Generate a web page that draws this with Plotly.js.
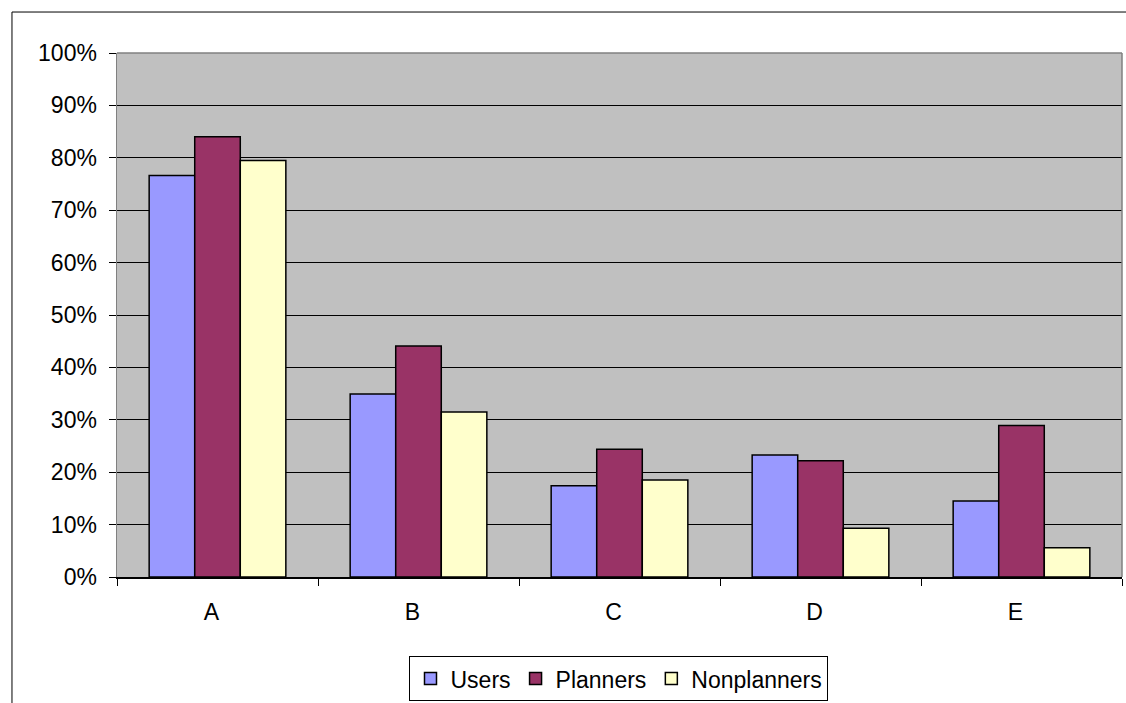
<!DOCTYPE html>
<html>
<head>
<meta charset="utf-8">
<script src="https://cdn.plot.ly/plotly-3.0.1.min.js"></script>
<style>
  html, body { margin: 0; padding: 0; background: #fff; }
  #chart { width: 1126px; height: 703px; }
</style>
</head>
<body>
<div id="chart"></div>
<script>
// Categories and share of respondents per group (fractions)
const categories = ['A', 'B', 'C', 'D', 'E'];
const users = [0.766, 0.349, 0.174, 0.233, 0.145];
const planners = [0.840, 0.441, 0.244, 0.222, 0.289];
const nonplanners = [0.795, 0.315, 0.185, 0.093, 0.056];
const yTicks = [0, 0.1, 0.2, 0.3, 0.4, 0.5, 0.6, 0.7, 0.8, 0.9, 1.0];
const yTickText = ['0%', '10%', '20%', '30%', '40%', '50%', '60%', '70%', '80%', '90%', '100%'];

const family = 'Liberation Sans, Arial, sans-serif';
const barLine = { color: '#000', width: 1.5 };

function series(name, values, color) {
  return {
    type: 'bar', name: name, x: categories, y: values,
    marker: { color: color, line: barLine },
    hoverinfo: 'x+y+name'
  };
}

const data = [
  series('Users', users, '#9999FF'),
  series('Planners', planners, '#993366'),
  series('Nonplanners', nonplanners, '#FFFFCC')
];

const layout = {
  width: 1126, height: 703,
  margin: { l: 117, r: 4, t: 53, b: 126, pad: 0, autoexpand: false },
  paper_bgcolor: '#fff',
  plot_bgcolor: '#C0C0C0',
  font: { family: family, size: 23, color: '#000' },
  barmode: 'group',
  bargap: 0.32,
  bargroupgap: 0,
  showlegend: true,
  legend: {
    orientation: 'h', x: 0.4995, xanchor: 'center', y: -0.151, yanchor: 'top',
    bgcolor: '#fff', bordercolor: '#000', borderwidth: 1,
    font: { family: family, size: 23, color: '#000' },
    itemwidth: 30, tracegroupgap: 0
  },
  xaxis: {
    type: 'category',
    tickson: 'boundaries',
    ticks: 'outside', ticklen: 7, tickcolor: '#000', tickwidth: 1,
    showline: true, linecolor: '#000', linewidth: 1.5,
    showgrid: false, zeroline: false,
    tickfont: { family: family, size: 23, color: '#000' },
    ticklabelstandoff: 14,
    ticklabelshift: -6,
    automargin: false,
    fixedrange: true
  },
  yaxis: {
    range: [0, 1.0],
    tickvals: yTicks, ticktext: yTickText,
    ticks: 'outside', ticklen: 7, tickcolor: '#000', tickwidth: 1,
    showline: true, linecolor: '#808080', linewidth: 1.5,
    showgrid: true, gridcolor: '#000', gridwidth: 1,
    zeroline: false,
    tickfont: { family: family, size: 23, color: '#000' },
    ticklabelstandoff: 7,
    automargin: false,
    fixedrange: true
  },
  shapes: [
    // outer chart frame
    { type: 'rect', xref: 'paper', yref: 'paper', layer: 'below',
      x0: -0.1045, x1: 1.2, y0: -0.6, y1: 1.0782,
      line: { color: '#000', width: 1 }, fillcolor: 'rgba(0,0,0,0)' },
    // plot area border (top and right)
    { type: 'line', xref: 'paper', yref: 'paper', x0: 0, x1: 1, y0: 1, y1: 1,
      line: { color: '#808080', width: 1.5 } },
    { type: 'line', xref: 'paper', yref: 'paper', x0: 1, x1: 1, y0: 0, y1: 1,
      line: { color: '#808080', width: 1.5 } }
  ]
};

Plotly.newPlot('chart', data, layout, { displayModeBar: false, staticPlot: true });
</script>
</body>
</html>
